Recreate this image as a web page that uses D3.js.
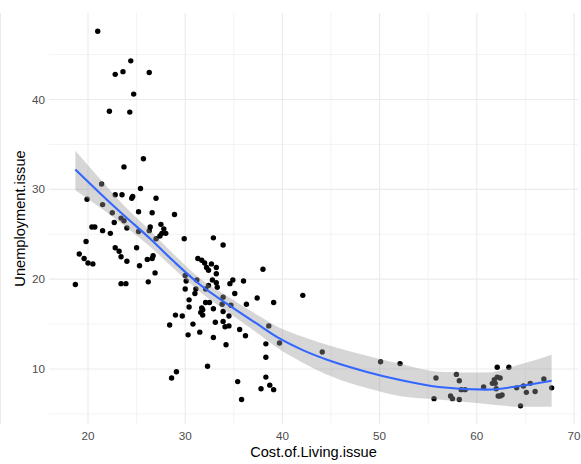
<!DOCTYPE html>
<html>
<head>
<meta charset="utf-8">
<script src="https://cdn.jsdelivr.net/npm/d3@7"></script>
<style>
  body { margin: 0; background: #ffffff; }
  svg { display: block; font-family: "Liberation Sans", Arial, sans-serif; }
</style>
</head>
<body>
<svg id="graph"></svg>
<script>
//----------data-------------
var costOfLiving = [
  21.0, 24.4, 22.8, 23.6, 26.3, 24.7, 22.2, 24.3, 25.7, 23.7,
  21.4, 25.4, 22.8, 23.5, 24.5, 24.6, 27.0, 19.9, 21.5, 25.2,
  26.6, 22.5, 23.4, 23.7, 22.7, 24.0, 27.5, 26.4, 26.3, 27.8,
  28.0, 27.6, 27.4, 20.4, 20.7, 21.5, 22.3, 25.2, 27.0, 19.8,
  22.8, 23.2, 23.4, 24.0, 25.0, 19.1, 19.6, 20.0, 20.5, 26.1,
  26.6, 26.7, 25.3, 26.9, 18.7, 23.4, 23.9, 26.2, 28.9, 29.9,
  31.3, 30.0, 30.1, 31.2, 30.0, 31.0, 31.1, 30.4, 30.4, 29.0,
  29.7, 32.9, 33.9, 31.7, 32.0, 32.2, 32.4, 32.7, 33.2, 33.2,
  38.0, 32.8, 33.2, 34.9, 34.6, 36.0, 32.4, 32.1, 33.3, 33.9,
  35.1, 36.3, 37.4, 39.1, 42.1, 32.1, 32.5, 31.7, 32.9, 34.7,
  31.8, 31.6, 31.8, 33.8, 33.9, 34.5, 28.4, 30.8, 33.1, 33.9,
  34.1, 34.5, 35.6, 38.6, 30.3, 31.5, 32.9, 36.2, 34.2, 38.3,
  39.7, 44.1, 38.3, 32.3, 29.1, 28.6, 35.4, 38.3, 37.8, 38.7,
  39.1, 35.8, 50.1, 52.1, 55.8, 55.6, 57.9, 58.2, 58.4, 58.8,
  57.3, 57.5, 58.2, 60.7, 62.1, 63.3, 62.1, 62.4, 61.8, 61.6,
  61.9, 62.0, 62.4, 62.6, 62.2, 64.1, 64.8, 65.5, 65.1, 66.0,
  64.5, 66.9, 67.7
];
var unemployment = [
  47.6, 44.3, 42.8, 43.1, 43.0, 40.6, 38.7, 38.6, 33.4, 32.5,
  30.6, 30.1, 29.4, 29.4, 29.0, 29.2, 29.0, 28.9, 28.3, 27.5,
  27.4, 27.4, 26.8, 26.5, 26.3, 25.7, 26.1, 25.8, 25.4, 25.6,
  25.1, 25.1, 24.8, 25.8, 25.8, 25.4, 25.1, 25.3, 24.5, 24.2,
  23.5, 23.1, 22.5, 22.0, 23.5, 22.8, 22.3, 21.8, 21.7, 22.2,
  22.3, 22.6, 21.5, 20.7, 19.4, 19.5, 19.5, 19.7, 27.2, 24.5,
  22.3, 20.4, 19.8, 19.9, 18.9, 18.4, 18.9, 17.7, 16.9, 16.0,
  15.9, 24.6, 23.8, 22.1, 21.8, 21.3, 21.0, 21.7, 21.3, 20.6,
  21.1, 19.9, 19.6, 19.9, 19.5, 19.8, 19.3, 18.9, 19.1, 18.0,
  18.4, 17.2, 17.9, 17.4, 18.2, 17.4, 17.4, 16.8, 16.7, 17.1,
  16.6, 16.3, 16.0, 17.2, 16.4, 15.9, 14.9, 15.0, 15.2, 15.3,
  14.7, 14.8, 14.4, 14.8, 13.8, 14.1, 13.5, 13.7, 12.7, 12.8,
  12.9, 11.9, 11.3, 10.3, 9.7, 9.0, 8.6, 9.1, 7.8, 8.2,
  7.7, 6.6, 10.8, 10.6, 9.0, 6.7, 9.4, 8.7, 7.7, 7.7,
  7.0, 6.7, 6.6, 8.0, 10.2, 10.2, 9.1, 9.0, 8.8, 8.4,
  8.4, 7.8, 7.0, 7.1, 7.0, 7.9, 8.1, 8.4, 7.4, 7.5,
  5.9, 8.9, 7.9
];

// smoother (fit and its confidence band)
var fitX     = [18.7, 21.2, 23.8, 26.4, 28.9, 31.5, 34.8, 37.3, 39.7, 42.1, 45.2, 48.6, 52.0, 56.1, 61.0, 64.4, 67.7];
var fitY     = [32.2, 29.6, 27.0, 24.5, 21.9, 19.4, 16.9, 15.1, 13.4, 12.1, 10.8, 9.7, 8.8, 8.0, 7.7, 8.1, 8.7];
var fitLower = [29.9, 28.0, 25.9, 23.6, 21.1, 18.6, 16.0, 14.1, 12.2, 10.7, 9.1, 7.9, 7.0, 6.6, 6.1, 5.8, 5.8];
var fitUpper = [34.3, 31.2, 28.1, 25.4, 22.7, 20.1, 17.8, 16.1, 14.6, 13.6, 12.5, 11.5, 10.6, 9.7, 9.6, 10.5, 11.6];

var xTicks = [10, 20, 30, 40, 50, 60, 70];
var xMinor = [15, 25, 35, 45, 55, 65];
var yTicks = [10, 20, 30, 40];
var yMinor = [5, 15, 25, 35, 45];

//---------scales---------
var screen = {width: 581, height: 464};
var panel = {left: 49, right: 578, top: 13, bottom: 424};

var xScale = d3.scaleLinear()
  .domain([20, 70])
  .range([88, 574]);
var yScale = d3.scaleLinear()
  .domain([10, 40])
  .range([369, 99.5]);

var svg = d3.select("#graph")
  .attr("width", screen.width)
  .attr("height", screen.height);

//---------grid---------
var grid = svg.append("g");

grid.selectAll(".hminor")
  .data(yMinor)
  .enter()
  .append("line")
  .attr("x1", panel.left).attr("x2", panel.right)
  .attr("y1", function (d) { return yScale(d); })
  .attr("y2", function (d) { return yScale(d); })
  .attr("stroke", "#ebebeb").attr("stroke-width", 0.6);

grid.selectAll(".vminor")
  .data(xMinor.filter(function (d) { return xScale(d) > panel.left; }))
  .enter()
  .append("line")
  .attr("y1", panel.top).attr("y2", panel.bottom)
  .attr("x1", function (d) { return xScale(d); })
  .attr("x2", function (d) { return xScale(d); })
  .attr("stroke", "#ebebeb").attr("stroke-width", 0.6);

grid.selectAll(".hmajor")
  .data(yTicks)
  .enter()
  .append("line")
  .attr("x1", panel.left).attr("x2", panel.right)
  .attr("y1", function (d) { return yScale(d); })
  .attr("y2", function (d) { return yScale(d); })
  .attr("stroke", "#ebebeb").attr("stroke-width", 1.1);

grid.selectAll(".vmajor")
  .data(xTicks.filter(function (d) { return xScale(d) > panel.left; }))
  .enter()
  .append("line")
  .attr("y1", panel.top).attr("y2", panel.bottom)
  .attr("x1", function (d) { return xScale(d); })
  .attr("x2", function (d) { return xScale(d); })
  .attr("stroke", "#ebebeb").attr("stroke-width", 1.1);

// stray line on the left edge of the reference
grid.append("line")
  .attr("x1", 0.5).attr("x2", 0.5)
  .attr("y1", panel.top).attr("y2", panel.bottom)
  .attr("stroke", "#ebebeb").attr("stroke-width", 1);

//---------points---------
var points = costOfLiving.map(function (x, i) { return {x: x, y: unemployment[i]}; });

svg.append("g")
  .selectAll("circle")
  .data(points)
  .enter()
  .append("circle")
  .attr("cx", function (d) { return xScale(d.x); })
  .attr("cy", function (d) { return yScale(d.y); })
  .attr("r", 2.7)
  .attr("fill", "#000000");

//---------smooth---------
var fit = fitX.map(function (x, i) {
  return {x: x, y: fitY[i], lo: fitLower[i], hi: fitUpper[i]};
});

var band = d3.area()
  .curve(d3.curveMonotoneX)
  .x(function (d) { return xScale(d.x); })
  .y0(function (d) { return yScale(d.lo); })
  .y1(function (d) { return yScale(d.hi); });

var line = d3.line()
  .curve(d3.curveMonotoneX)
  .x(function (d) { return xScale(d.x); })
  .y(function (d) { return yScale(d.y); });

svg.append("path")
  .datum(fit)
  .attr("d", band)
  .attr("fill", "#999999")
  .attr("fill-opacity", 0.4);

svg.append("path")
  .datum(fit)
  .attr("d", line)
  .attr("fill", "none")
  .attr("stroke", "#3366FF")
  .attr("stroke-width", 2.1);

//---------axes text---------
svg.append("g")
  .selectAll("text")
  .data(xTicks)
  .enter()
  .append("text")
  .attr("x", function (d) { return xScale(d); })
  .attr("y", 440)
  .attr("text-anchor", "middle")
  .attr("font-size", "11.7px")
  .attr("fill", "#4d4d4d")
  .text(function (d) { return d; });

svg.append("g")
  .selectAll("text")
  .data(yTicks)
  .enter()
  .append("text")
  .attr("x", 45)
  .attr("y", function (d) { return yScale(d) + 4; })
  .attr("text-anchor", "end")
  .attr("font-size", "11.7px")
  .attr("fill", "#4d4d4d")
  .text(function (d) { return d; });

svg.append("text")
  .attr("x", (panel.left + panel.right) / 2)
  .attr("y", 457)
  .attr("text-anchor", "middle")
  .attr("font-size", "14.6px")
  .attr("fill", "#000000")
  .text("Cost.of.Living.issue");

svg.append("text")
  .attr("transform", "translate(25," + (panel.top + panel.bottom) / 2 + ") rotate(-90)")
  .attr("text-anchor", "middle")
  .attr("font-size", "14.6px")
  .attr("fill", "#000000")
  .text("Unemployment.issue");
</script>
</body>
</html>
